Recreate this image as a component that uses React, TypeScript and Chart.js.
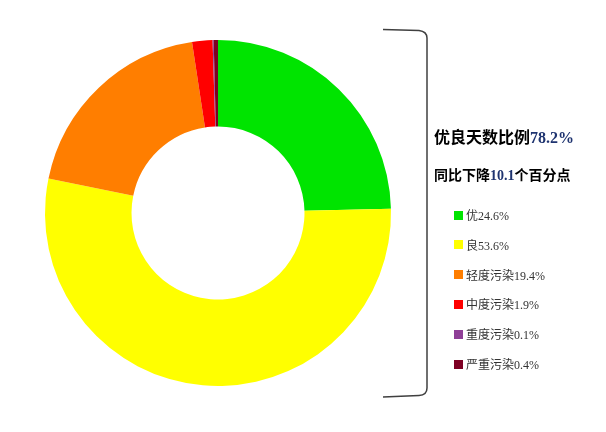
import React, { useEffect, useRef } from "react";
import { Chart, registerables } from "chart.js";

Chart.register(...registerables);

const categories = ["优", "良", "轻度污染", "中度污染", "重度污染", "严重污染"];
const values = [24.6, 53.6, 19.4, 1.9, 0.1, 0.4];
const colors = ["#00E400", "#FFFF00", "#FF7E00", "#FF0000", "#8F3F97", "#7E0023"];
const titleLabel = "优良天数比例";
const titleValue = "78.2%";
const subPrefix = "同比下降";
const subValue = "10.1";
const subSuffix = "个百分点";

const FONT = "'Liberation Serif', 'Noto Sans CJK SC', serif";

const bracketPlugin = {
  id: "bracket",
  afterDraw(chart: any) {
    const ctx = chart.ctx;
    ctx.save();
    ctx.strokeStyle = "#404040";
    ctx.lineWidth = 1.5;
    ctx.beginPath();
    ctx.moveTo(383, 29.5);
    ctx.lineTo(419, 30.5);
    ctx.quadraticCurveTo(427, 31.5, 427, 38);
    ctx.lineTo(427, 388);
    ctx.quadraticCurveTo(427, 395, 419, 395.5);
    ctx.lineTo(383, 397);
    ctx.stroke();
    ctx.restore();
  },
};

export default function App() {
  const ref = useRef<HTMLCanvasElement | null>(null);
  useEffect(() => {
    if (!ref.current) return;
    const chart = new Chart(ref.current, {
      type: "doughnut",
      data: {
        labels: categories,
        datasets: [
          {
            data: values,
            backgroundColor: colors,
            borderWidth: 0,
          },
        ],
      },
      options: {
        responsive: false,
        animation: false,
        cutout: "50%",
        layout: { padding: { left: 45, top: 40, right: 215, bottom: 46 } },
        plugins: {
          legend: { display: false },
          tooltip: { enabled: false },
        },
      },
      plugins: [bracketPlugin],
    });
    return () => chart.destroy();
  }, []);

  return (
    <div style={{ position: "absolute", left: 0, top: 0, width: 606, height: 432, background: "#fff", fontFamily: FONT }}>
      <canvas ref={ref} width={606} height={432} style={{ position: "absolute", left: 0, top: 0 }} />
      <div style={{ position: "absolute", left: 434, top: 127, fontSize: 16, fontWeight: "bold", lineHeight: "22px", whiteSpace: "nowrap", color: "#000" }}>
        {titleLabel}
        <span style={{ color: "#1F3470" }}>{titleValue}</span>
      </div>
      <div style={{ position: "absolute", left: 434, top: 166, fontSize: 14, fontWeight: "bold", lineHeight: "20px", whiteSpace: "nowrap", color: "#000" }}>
        {subPrefix}
        <span style={{ color: "#1F3470" }}>{subValue}</span>
        {subSuffix}
      </div>
      {categories.map((c, i) => (
        <div key={c} style={{ position: "absolute", left: 454, top: 205 + i * 29.8, height: 20, display: "flex", alignItems: "center", whiteSpace: "nowrap" }}>
          <span style={{ display: "inline-block", width: 9, height: 9, background: colors[i], marginRight: 3 }} />
          <span style={{ fontSize: 12, color: "#333" }}>{c + values[i] + "%"}</span>
        </div>
      ))}
    </div>
  );
}
